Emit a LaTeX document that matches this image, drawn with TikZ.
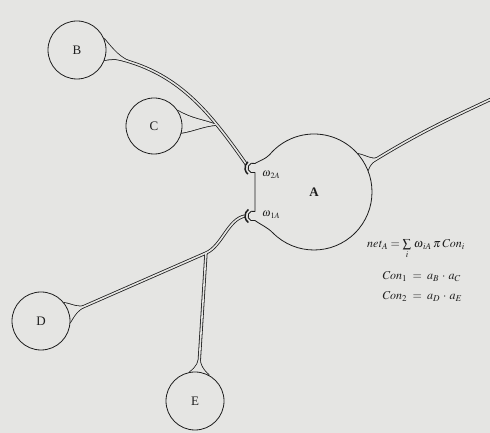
\documentclass[tikz,border=0pt]{standalone}
\usepackage{mathptmx}
\usepackage[no-math]{fontspec}
\setmainfont{Liberation Serif}
\usepackage{tikz}
\usetikzlibrary{calc,backgrounds,positioning}
\usepackage{xcolor}
\definecolor{ink}{RGB}{30,30,30}
\definecolor{paper}{RGB}{229,229,227}
\tikzstyle{soma} = [circle, draw=ink, fill=paper, line width=0.8pt, minimum size=58pt, inner sep=0pt, text=ink, font=\fontsize{13}{15}\selectfont]
\tikzstyle{hub} = [circle, minimum size=116pt, inner sep=0pt, outer sep=0pt, text=ink, font=\bfseries\fontsize{13}{15}\selectfont]
\tikzstyle{nerveout} = [draw=ink, line width=3.2pt]
\tikzstyle{nervein} = [draw=paper, line width=1.6pt]
\tikzstyle{flareout} = [fill=ink, draw=ink, line width=1.6pt, line join=round]
\tikzstyle{flarein} = [fill=paper]
\tikzstyle{cup} = [draw=ink, line width=1.5pt]
\tikzstyle{membrane} = [draw=ink, fill=paper, line width=0.8pt, line join=round]
\tikzstyle{wlabel} = [anchor=west, inner sep=0pt, text=ink, font=\fontsize{11}{13}\selectfont]
\tikzstyle{formula} = [anchor=base west, inner sep=0pt, text=ink, font=\fontsize{12}{14}\selectfont]

\begin{document}
\begin{tikzpicture}[x=1pt,y=1pt]
\useasboundingbox (0,0) rectangle (490,433);
% cell bodies
\node[soma] (B) at (77,383) {B};
\node[soma, minimum size=56pt] (C) at (154,307) {C};
\node[soma] (D) at (41,112) {D};
\node[soma] (E) at (195,32) {E};
\node[hub] (A) at (314,241) {A};
% knobs on A, fork, end of axon
\coordinate (s2) at (253,265);
\coordinate (s1) at (253,217);
\coordinate (j1) at (206,180);
\coordinate (axend) at (500,338);
\node[wlabel] (w2) at (262,258) {$\omega_{\,2A}$};
\node[wlabel] (w1) at (262,218) {$\omega_{\,1A}$};
% formulas
\node[formula] (net) at (367,185) {$\mathit{net}_A=\sum\limits_i\,\omega_{\,iA}\,\pi\,\mathit{Con}_i$};
\node[formula] (con1) at (382,153) {$\mathit{Con}_1 \;=\; a_B\,\cdot\,a_C$};
\node[formula] (con2) at (382,133) {$\mathit{Con}_2 \;=\; a_D\,\cdot\,a_E$};

\begin{scope}[on background layer]
\fill[paper] (0,0) rectangle (490,433);
\clip (0,0) rectangle (490,433);
\foreach \nv/\fl in {nerveout/flareout,nervein/flarein} {
  % B and C into the upper knob
  \draw[\nv] (B.-12) to[out=-10,in=125] coordinate[pos=0.15] (btip) coordinate[pos=0.75] (ctip) ($(s2)+(150:8)$);
  \path[\fl] (B.22) to[out=-50,in=161] (btip) to[out=161,in=10] (B.-20) -- cycle;
  \path[\fl] (C.32) to[out=-30,in=160] (ctip) to[out=185,in=10] (C.-14) -- cycle;
  % D and E into the lower knob
  \draw[\nv] (D.16) -- coordinate[pos=0.13] (dtip) (j1) .. controls +(16,7) and +(-17,-3) .. ($(s1)+(180:8)$);
  \draw[\nv] (E.83) -- coordinate[pos=0.15] (etip) (j1);
  \path[\fl] (D.38) to[out=-10,in=204] (dtip) to[out=204,in=60] (D.-2) -- cycle;
  \path[\fl] (E.100) to[out=35,in=-94] (etip) to[out=-94,in=140] (E.62) -- cycle;
  % axon of A
  \draw[\nv] (A.27) to[out=32,in=205] coordinate[pos=0.1] (atip) (axend);
  \path[\fl] (A.41) to[out=-10,in=211] (atip) to[out=211,in=70] (A.22) -- cycle;
}
% cups round the knobs
\draw[cup] ($(s2)+(130:8)$) arc[start angle=130,end angle=230,radius=8pt];
\draw[cup] ($(s1)+(125:8)$) arc[start angle=125,end angle=235,radius=8pt];
% outline of A with the two knobs
\path[membrane] ($(s2)+(-66:5)$) -- ($(s1)+(66:5)$) arc[start angle=66,end angle=294,radius=5pt]
  to[out=-35,in=135] (A.-135) arc[start angle=-135,end angle=140,radius=58pt]
  to[out=225,in=30] ($(s2)+(66:5)$) arc[start angle=66,end angle=294,radius=5pt] -- cycle;
\end{scope}
\end{tikzpicture}
\end{document}
